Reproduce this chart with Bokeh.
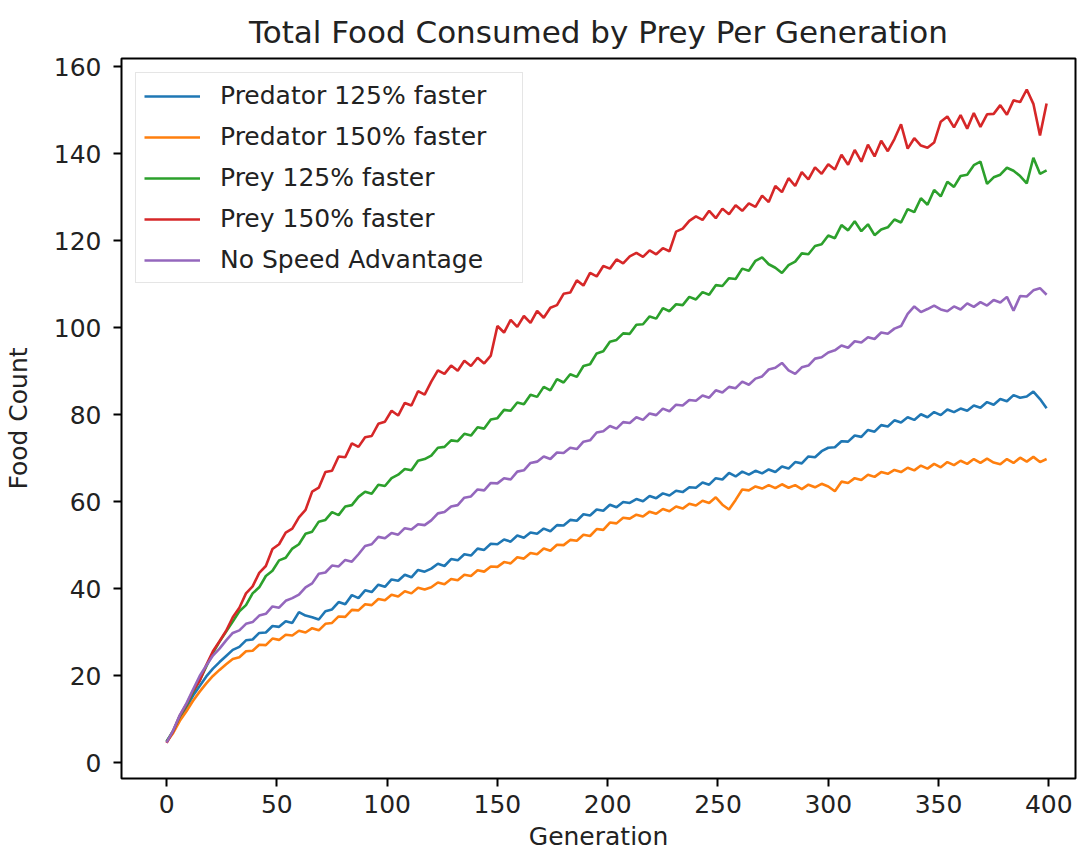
from bokeh.plotting import figure
from bokeh.models import Range1d, Legend, LegendItem, FixedTicker, ColumnDataSource
from bokeh.embed import file_html
from bokeh.resources import INLINE

generations = list(range(0, 400, 3))

pred_125 = [
    4.9, 7.1, 10.3, 12.6, 15.4, 17.6, 19.8, 21.6, 23.1, 24.5,
    25.9, 26.6, 28.1, 28.3, 29.8, 29.9, 31.4, 31.2, 32.5, 32.1,
    34.6, 33.8, 33.4, 32.9, 34.8, 35.2, 36.9, 36.4, 38.5, 37.8,
    39.6, 39.2, 40.9, 40.4, 42.1, 41.8, 43.2, 42.6, 44.3, 43.9,
    44.6, 45.7, 45.2, 46.8, 46.5, 47.9, 47.6, 49.2, 48.9, 50.3,
    50.2, 51.3, 50.8, 52.2, 51.7, 52.9, 52.6, 53.8, 53.2, 54.6,
    54.5, 55.8, 55.6, 57.1, 56.8, 58.2, 57.9, 59.3, 58.7, 59.9,
    59.7, 60.6, 60.1, 61.3, 60.8, 61.9, 61.4, 62.5, 62.2, 63.3,
    63.2, 64.4, 63.9, 65.4, 65.1, 66.6, 65.8, 66.9, 66.2, 67.1,
    66.5, 67.4, 66.8, 68.1, 67.6, 69.1, 68.8, 70.4, 70.2, 71.6,
    72.4, 72.5, 73.9, 73.8, 75.2, 74.9, 76.5, 76.1, 77.6, 77.3,
    78.7, 78.2, 79.4, 78.8, 80.1, 79.4, 80.6, 79.9, 81.2, 80.6,
    81.4, 80.9, 82.1, 81.6, 82.9, 82.3, 83.6, 83.1, 84.5, 83.9,
    84.2, 85.3, 83.6, 81.5,
]

pred_150 = [
    4.7, 6.8, 9.6, 11.8, 14.2, 16.3, 18.2, 19.9, 21.3, 22.6,
    23.8, 24.2, 25.6, 25.7, 27.1, 27.0, 28.5, 28.2, 29.4, 29.2,
    30.3, 29.9, 30.9, 30.4, 31.9, 32.1, 33.6, 33.5, 35.1, 35.0,
    36.4, 36.2, 37.6, 37.3, 38.6, 38.2, 39.4, 38.9, 40.2, 39.8,
    40.3, 41.4, 41.0, 42.2, 41.9, 43.2, 42.9, 44.2, 43.9, 45.1,
    45.0, 46.1, 45.8, 47.2, 46.9, 48.2, 47.9, 49.2, 48.7, 50.1,
    50.0, 51.2, 51.0, 52.4, 52.1, 53.7, 53.5, 55.2, 55.0, 56.3,
    56.1, 57.0, 56.6, 57.7, 57.2, 58.3, 57.8, 58.9, 58.4, 59.5,
    59.1, 60.2, 59.7, 61.0, 59.3, 58.2, 60.4, 62.8, 62.6, 63.5,
    63.0, 63.8, 63.1, 64.0, 63.2, 63.8, 62.9, 63.9, 63.3, 64.1,
    63.5, 62.4, 64.6, 64.3, 65.4, 65.0, 66.2, 65.7, 66.8, 66.4,
    67.3, 66.8, 67.8, 67.2, 68.3, 67.6, 68.7, 67.9, 69.1, 68.4,
    69.4, 68.7, 69.8, 68.9, 69.9, 69.0, 68.6, 69.8, 68.9, 70.1,
    69.2, 70.3, 69.1, 69.8,
]

prey_125 = [
    4.8, 7.3, 10.6, 13.1, 16.2, 18.9, 22.1, 25.2, 27.8, 30.1,
    32.4, 34.8, 36.2, 38.9, 40.3, 42.9, 44.1, 46.5, 47.1, 49.2,
    50.2, 52.6, 53.1, 55.4, 55.8, 57.6, 56.9, 58.9, 59.2, 61.1,
    62.3, 61.8, 63.9, 63.6, 65.4, 66.2, 67.5, 67.2, 69.4, 69.8,
    70.6, 72.4, 72.6, 74.1, 73.9, 75.6, 75.2, 77.1, 76.8, 78.9,
    79.2, 81.1, 80.9, 82.8, 82.4, 84.6, 84.1, 86.4, 85.6, 88.2,
    87.4, 89.3, 88.7, 91.2, 91.6, 94.1, 94.6, 96.8, 97.2, 98.7,
    98.6, 100.7, 100.8, 102.6, 102.1, 104.5, 103.8, 105.4, 105.2, 107.1,
    106.5, 108.2, 107.6, 109.8, 109.6, 111.4, 111.2, 113.6, 113.1, 115.4,
    116.2, 114.6, 113.8, 112.6, 114.4, 115.2, 117.1, 116.9, 118.8, 119.2,
    121.2, 120.6, 123.6, 122.4, 124.5, 122.2, 123.8, 121.3, 122.6, 123.1,
    124.9, 124.2, 127.3, 126.6, 129.8, 128.3, 131.7, 130.2, 133.6, 132.4,
    134.9, 135.2, 137.4, 138.2, 133.1, 134.6, 135.2, 136.8, 136.1, 134.9,
    133.2, 139.1, 135.4, 136.2,
]

prey_150 = [
    4.5, 7.2, 10.8, 13.4, 16.5, 18.8, 22.4, 25.6, 27.9, 30.3,
    33.4, 35.6, 38.9, 40.5, 43.6, 45.2, 49.1, 50.2, 52.9, 53.8,
    56.4, 58.1, 62.3, 63.2, 66.8, 67.1, 70.4, 70.2, 73.4, 72.6,
    74.8, 75.1, 77.9, 78.4, 80.9, 79.8, 82.7, 82.1, 85.4, 84.6,
    87.6, 90.2, 89.4, 91.3, 90.1, 92.4, 91.2, 93.1, 91.8, 93.6,
    100.4, 98.9, 101.8, 100.2, 102.7, 101.1, 103.9, 102.3, 104.6, 105.2,
    107.8, 108.1, 110.9, 109.7, 112.6, 111.8, 114.2, 113.6, 115.7, 114.8,
    116.4, 117.2, 116.3, 117.8, 116.9, 118.3, 117.6, 122.1, 122.8, 124.6,
    125.6, 124.8, 126.9, 125.2, 127.4, 126.1, 128.2, 126.9, 128.6, 127.8,
    130.4, 128.9, 132.6, 131.2, 134.4, 132.6, 135.8, 134.1, 136.9, 135.4,
    137.6, 136.4, 139.8, 137.5, 140.9, 138.2, 142.1, 139.4, 143.0, 140.6,
    143.4, 146.8, 141.2, 143.6, 141.9, 141.4, 142.6, 147.4, 148.6, 146.1,
    148.9, 145.8, 149.4, 146.2, 149.1, 149.2, 151.2, 149.0, 152.3, 151.9,
    154.8, 151.5, 144.2, 151.6,
]

no_adv = [
    4.6, 7.4, 10.9, 13.6, 16.8, 19.9, 22.3, 24.6, 26.2, 28.1,
    29.8, 30.4, 31.9, 32.3, 33.8, 34.2, 35.9, 35.6, 37.2, 37.8,
    38.6, 40.3, 41.2, 43.4, 43.7, 45.3, 45.1, 46.6, 46.2, 47.9,
    49.8, 50.2, 51.9, 51.6, 52.8, 52.4, 53.9, 53.6, 54.8, 54.6,
    55.7, 57.3, 57.6, 58.9, 59.2, 60.9, 61.2, 62.8, 62.6, 64.3,
    64.2, 65.4, 65.1, 66.9, 67.2, 68.9, 69.2, 70.4, 69.8, 71.3,
    71.2, 72.4, 72.1, 73.8, 74.1, 75.9, 76.2, 77.4, 76.8, 78.3,
    78.1, 79.4, 78.8, 80.3, 79.9, 81.4, 80.8, 82.3, 82.1, 83.4,
    83.2, 84.4, 83.9, 85.6, 85.1, 86.4, 86.1, 87.6, 86.9, 88.3,
    88.8, 90.4, 90.8, 91.9, 90.2, 89.4, 90.9, 91.3, 92.9, 93.2,
    94.3, 94.8, 95.9, 95.4, 96.9, 96.6, 97.8, 97.4, 98.9, 98.6,
    99.8, 100.4, 103.2, 104.9, 103.6, 104.3, 105.1, 104.2, 103.8, 104.9,
    104.2, 105.6, 104.8, 105.9, 105.1, 106.4, 105.8, 107.1, 103.9, 107.3,
    107.2, 108.6, 109.1, 107.6,
]

series_names = ["Predator 125% faster", "Predator 150% faster", "Prey 125% faster",
                "Prey 150% faster", "No Speed Advantage"]
series_values = [pred_125, pred_150, prey_125, prey_150, no_adv]
series_colors = ["#1f77b4", "#ff7f0e", "#2ca02c", "#d62728", "#9467bd"]

x_ticks = [0, 50, 100, 150, 200, 250, 300, 350, 400]
y_ticks = [0, 20, 40, 60, 80, 100, 120, 140, 160]

FONT = "DejaVu Sans"
TXT = "#222222"

p = figure(
    width=1078, height=858,
    min_border_left=121, min_border_right=3, min_border_top=58, min_border_bottom=80,
    x_range=Range1d(-20.45, 412.1), y_range=Range1d(-3.68, 161.93),
    output_backend="svg", toolbar_location=None,
    title="Total Food Consumed by Prey Per Generation",
)
p.title.align = "center"
p.title.text_font = FONT
p.title.text_font_size = "31px"
p.title.text_font_style = "normal"
p.title.text_color = TXT
p.title.offset = 5
p.title.standoff = 17

p.background_fill_color = "white"
p.border_fill_color = "white"
p.outline_line_color = "black"
p.outline_line_width = 2
p.xgrid.visible = False
p.ygrid.visible = False

for ax, ticks, label in ((p.xaxis[0], x_ticks, "Generation"), (p.yaxis[0], y_ticks, "Food Count")):
    ax.ticker = FixedTicker(ticks=ticks)
    ax.axis_label = label
    ax.axis_label_text_font = FONT
    ax.axis_label_text_font_size = "25px"
    ax.axis_label_text_font_style = "normal"
    ax.axis_label_text_color = TXT
    ax.major_label_text_font = FONT
    ax.major_label_text_font_size = "25px"
    ax.major_label_text_color = TXT
    ax.axis_line_color = None
    ax.major_tick_line_color = "black"
    ax.major_tick_line_width = 2
    ax.major_tick_out = 8
    ax.major_tick_in = 0
    ax.minor_tick_line_color = None

p.xaxis[0].major_label_standoff = 8
p.xaxis[0].axis_label_standoff = 6
p.yaxis[0].major_label_standoff = 12
p.yaxis[0].axis_label_standoff = 18

items = []
for name, vals, col in zip(series_names, series_values, series_colors):
    src = ColumnDataSource(data=dict(x=generations, y=vals))
    r = p.line("x", "y", source=src, line_color=col, line_width=2.6)
    items.append(LegendItem(label=name, renderers=[r]))

legend = Legend(
    items=items, location="top_left", margin=14, padding=8, spacing=12,
    label_height=26, glyph_height=26, glyph_width=56, label_standoff=20, label_width=294,
    label_text_font=FONT, label_text_font_size="25px", label_text_color=TXT,
    border_line_color="#cccccc", border_line_width=1.5, background_fill_alpha=0.8,
)
p.add_layout(legend)

open("out.html", "w").write(file_html(p, INLINE))
